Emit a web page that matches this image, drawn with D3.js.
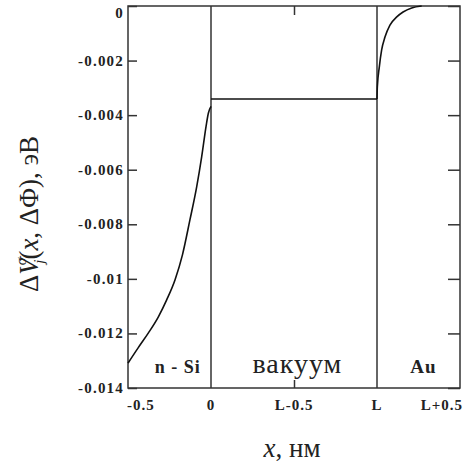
<!DOCTYPE html>
<html>
<head>
  <meta charset="UTF-8">
  <script src="https://d3js.org/d3.v7.min.js"></script>
</head>
<body style="margin:0">
  <svg id="chart" width="463" height="466"></svg>

  <script>
    // x in units where L = 1
    const siData = [
      [-0.5, -0.01309], [-0.438, -0.01252], [-0.378, -0.01199], [-0.317, -0.01139],
      [-0.267, -0.01077], [-0.217, -0.01004], [-0.172, -0.00912], [-0.127, -0.00784],
      [-0.086, -0.00662], [-0.056, -0.00552], [-0.030, -0.00442], [-0.016, -0.00393],
      [0, -0.00368]
    ]
    const vacuumData = [[0, -0.00341], [1, -0.00341]]
    const auData = [
      [1.0, -0.00341], [1.002, -0.00297], [1.014, -0.00223], [1.028, -0.00161],
      [1.048, -0.00114], [1.078, -0.00070], [1.119, -0.00040], [1.157, -0.00022],
      [1.209, -0.00007], [1.269, 0]
    ]
    const boundaries = [0, 1]
    const yTicks = [0, -0.002, -0.004, -0.006, -0.008, -0.01, -0.012, -0.014]
    const yTickLabels = ["0", "-0.002", "-0.004", "-0.006", "-0.008", "-0.01", "-0.012", "-0.014"]
    const xTicks = [-0.5, 0, 0.5, 1, 1.5]
    const xTickLabels = ["-0.5", "0", "L-0.5", "L", "L+0.5"]
    const regions = [
      { x: -0.2, text: "n - Si", bold: true, size: 18 },
      { x: 0.52, text: "вакуум", bold: false, size: 28 },
      { x: 1.28, text: "Au", bold: true, size: 19 }
    ]

    const serif = "'Liberation Serif'"
    const svg = d3.select("#chart")
    const pLeft = 128, pRight = 460, pTop = 6, pBottom = 388

    const x = d3.scaleLinear().domain([-0.5, 1.5]).range([pLeft, pRight])
    const y = d3.scaleLinear().domain([-0.014, 0]).range([pBottom, pTop])

    const ink = "#333"

    // frame
    svg.append("rect")
      .attr("x", pLeft).attr("y", pTop)
      .attr("width", pRight - pLeft).attr("height", pBottom - pTop)
      .attr("fill", "none").attr("stroke", ink).attr("stroke-width", 1.5)

    // left / right inward ticks
    svg.append("g")
      .attr("transform", "translate(" + pLeft + ",0)")
      .call(d3.axisRight(y).tickValues(yTicks).tickSize(9).tickFormat(""))
      .call(g => g.select(".domain").remove())
      .selectAll("line").attr("stroke", ink).attr("stroke-width", 1.5)

    svg.append("g")
      .attr("transform", "translate(" + pRight + ",0)")
      .call(d3.axisLeft(y).tickValues(yTicks).tickSize(12).tickFormat(""))
      .call(g => g.select(".domain").remove())
      .selectAll("line").attr("stroke", ink).attr("stroke-width", 1.5)

    // top / bottom inward ticks
    svg.append("g")
      .attr("transform", "translate(0," + pTop + ")")
      .call(d3.axisBottom(x).tickValues([0.5]).tickSize(9).tickFormat(""))
      .call(g => g.select(".domain").remove())
      .selectAll("line").attr("stroke", ink).attr("stroke-width", 1.5)

    svg.append("g")
      .attr("transform", "translate(0," + pBottom + ")")
      .call(d3.axisTop(x).tickValues([0.5]).tickSize(8).tickFormat(""))
      .call(g => g.select(".domain").remove())
      .selectAll("line").attr("stroke", ink).attr("stroke-width", 1.5)

    // y tick labels
    svg.append("g").selectAll("text")
      .data(yTicks)
      .join("text")
      .style("font-family", serif)
      .attr("x", pLeft - 4)
      .attr("y", d => d === 0 ? y(d) + 12 : y(d) + 5)
      .attr("text-anchor", "end")
      .attr("font-weight", "bold")
      .attr("font-size", 15)
      .attr("letter-spacing", 1.2)
      .attr("fill", "#222")
      .text((d, i) => yTickLabels[i])

    // x tick labels
    svg.append("g").selectAll("text")
      .data(xTicks)
      .join("text")
      .style("font-family", serif)
      .attr("x", (d, i) => i === 0 ? x(d) - 1 : i === xTicks.length - 1 ? x(d) + 3 : x(d))
      .attr("y", pBottom + 22)
      .attr("text-anchor", (d, i) => i === 0 ? "start" : i === xTicks.length - 1 ? "end" : "middle")
      .attr("font-weight", "bold")
      .attr("font-size", 15)
      .attr("letter-spacing", 1)
      .attr("fill", "#222")
      .text((d, i) => xTickLabels[i])

    // boundary lines
    svg.append("g").selectAll("line")
      .data(boundaries)
      .join("line")
      .attr("x1", d => x(d)).attr("x2", d => x(d))
      .attr("y1", pTop).attr("y2", pBottom)
      .attr("stroke", ink).attr("stroke-width", 1.5)

    const line = d3.line().x(d => x(d[0])).y(d => y(d[1])).curve(d3.curveMonotoneX)

    ;[siData, vacuumData, auData].forEach(data => {
      svg.append("path")
        .datum(data)
        .attr("fill", "none")
        .attr("stroke", "#111")
        .attr("stroke-width", 1.6)
        .attr("d", line)
    })

    // region labels
    svg.append("g").selectAll("text")
      .data(regions)
      .join("text")
      .style("font-family", serif)
      .attr("x", d => x(d.x))
      .attr("y", 373)
      .attr("text-anchor", "middle")
      .attr("font-weight", d => d.bold ? "bold" : "normal")
      .attr("font-size", d => d.size)
      .attr("letter-spacing", 1)
      .attr("fill", "#222")
      .text(d => d.text)

    // x axis title
    const xt = svg.append("text")
      .style("font-family", serif)
      .attr("x", 292)
      .attr("y", 457)
      .attr("text-anchor", "middle")
      .attr("font-size", 27)
      .attr("fill", "#222")
    xt.append("tspan").attr("font-style", "italic").text("x")
    xt.append("tspan").text(",  нм")

    // y axis title
    const yt = svg.append("text")
      .style("font-family", serif)
      .attr("transform", "translate(38,214) rotate(-90)")
      .attr("text-anchor", "middle")
      .attr("font-size", 27)
      .attr("fill", "#222")
    yt.append("tspan").text("Δ")
    yt.append("tspan").attr("font-style", "italic").text("V")
    yt.append("tspan").attr("font-style", "italic").attr("font-size", 15).attr("dy", -12).attr("dx", -7).text("σ")
    yt.append("tspan").attr("font-style", "italic").attr("font-size", 15).attr("dy", 18).attr("dx", -6).text("j")
    yt.append("tspan").attr("dy", -6).text("(")
    yt.append("tspan").attr("font-style", "italic").text("x")
    yt.append("tspan").text(",  ΔΦ), эВ")
  </script>
</body>
</html>
